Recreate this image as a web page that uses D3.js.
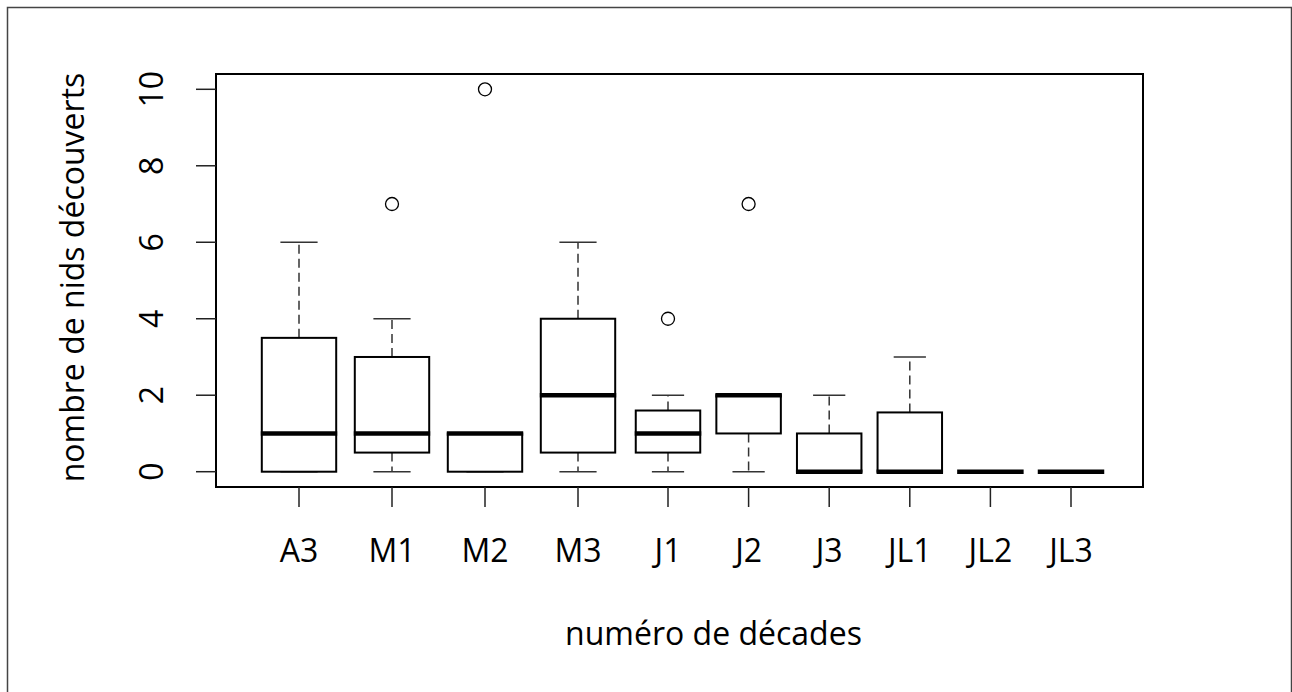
<!DOCTYPE html>
<html>
<head>
<meta charset="utf-8">
<script src="https://cdn.jsdelivr.net/npm/d3@7"></script>
<style>
  body { margin: 0; background: #fff; }
  svg { display: block; font-family: "Open Sans", sans-serif; }
</style>
</head>
<body>
<script>
// decades and boxplot statistics
var categories = ["A3", "M1", "M2", "M3", "J1", "J2", "J3", "JL1", "JL2", "JL3"];
var lowWhisker = [0, 0, 0, 0, 0, 0, 0, 0, 0, 0];
var lowerHinge = [0, 0.5, 0, 0.5, 0.5, 1, 0, 0, 0, 0];
var medians = [1, 1, 1, 2, 1, 2, 0, 0, 0, 0];
var upperHinge = [3.5, 3, 1, 4, 1.6, 2, 1, 1.55, 0, 0];
var highWhisker = [6, 4, 1, 6, 2, 2, 2, 3, 0, 0];
var outliers = [[], [7], [10], [], [4], [7], [], [], [], []];
var yTicks = [0, 2, 4, 6, 8, 10];

var width = 1292, height = 692;
var plot = { left: 216, right: 1143, top: 74, bottom: 487 };

var svg = d3.select("body").append("svg")
    .attr("width", width)
    .attr("height", height);

// outer frame
svg.append("rect")
    .attr("x", 7.5).attr("y", 7.5)
    .attr("width", 1284).attr("height", 700)
    .attr("fill", "none")
    .attr("stroke", "#444")
    .attr("stroke-width", 1.5);

// the groups are not evenly spaced in the original
var x = d3.scaleLinear()
    .domain([0, 3, 4, 9])
    .range([299, 578, 668, 1071]);

var y = d3.scaleLinear()
    .domain([-0.4, 10.4])
    .range([plot.bottom, plot.top]);

function step(i) {
    return i < 4 ? x(1) - x(0) : x(9) - x(8);
}

var g = svg.append("g");

categories.forEach(function (c, i) {
    var cx = x(i),
        half = step(i) * 0.4,
        staple = half * 0.5;

    // whiskers
    [[lowerHinge[i], lowWhisker[i]], [upperHinge[i], highWhisker[i]]].forEach(function (w) {
        g.append("line")
            .attr("x1", cx).attr("x2", cx)
            .attr("y1", y(w[0])).attr("y2", y(w[1]))
            .attr("stroke", "#333")
            .attr("stroke-width", 1.5)
            .attr("stroke-dasharray", "9,5");
        g.append("line")
            .attr("x1", cx - staple).attr("x2", cx + staple)
            .attr("y1", y(w[1])).attr("y2", y(w[1]))
            .attr("stroke", "#333")
            .attr("stroke-width", 1.5);
    });

    // box
    g.append("rect")
        .attr("x", cx - half)
        .attr("y", y(upperHinge[i]))
        .attr("width", half * 2)
        .attr("height", y(lowerHinge[i]) - y(upperHinge[i]))
        .attr("fill", "#fff")
        .attr("stroke", "#000")
        .attr("stroke-width", 2);

    // median
    g.append("line")
        .attr("x1", cx - half - 1).attr("x2", cx + half + 1)
        .attr("y1", y(medians[i])).attr("y2", y(medians[i]))
        .attr("stroke", "#000")
        .attr("stroke-width", 4.5);

    // outliers
    outliers[i].forEach(function (v) {
        g.append("circle")
            .attr("cx", cx)
            .attr("cy", y(v))
            .attr("r", 6.5)
            .attr("fill", "none")
            .attr("stroke", "#000")
            .attr("stroke-width", 1.3);
    });
});

// plot box
svg.append("rect")
    .attr("x", plot.left).attr("y", plot.top)
    .attr("width", plot.right - plot.left)
    .attr("height", plot.bottom - plot.top)
    .attr("fill", "none")
    .attr("stroke", "#000")
    .attr("stroke-width", 2);

// Y axis ticks and rotated labels
var yAxis = svg.append("g");
yTicks.forEach(function (t) {
    yAxis.append("line")
        .attr("x1", plot.left - 20).attr("x2", plot.left)
        .attr("y1", y(t)).attr("y2", y(t))
        .attr("stroke", "#222")
        .attr("stroke-width", 1.5);
    yAxis.append("text")
        .attr("transform", "translate(163," + y(t) + ") rotate(-90)")
        .attr("text-anchor", "middle")
        .attr("font-size", 32)
        .text(t);
});

// X axis ticks and labels
var xAxis = svg.append("g");
categories.forEach(function (c, i) {
    xAxis.append("line")
        .attr("x1", x(i)).attr("x2", x(i))
        .attr("y1", plot.bottom).attr("y2", plot.bottom + 20)
        .attr("stroke", "#222")
        .attr("stroke-width", 1.5);
    xAxis.append("text")
        .attr("x", x(i))
        .attr("y", 562)
        .attr("text-anchor", "middle")
        .attr("font-size", 32)
        .text(c);
});

// axis titles
svg.append("text")
    .attr("x", (plot.left + plot.right) / 2 + 34)
    .attr("y", 645)
    .attr("text-anchor", "middle")
    .attr("font-size", 32)
    .text("numéro de décades");

svg.append("text")
    .attr("transform", "translate(84," + ((plot.top + plot.bottom) / 2 - 3) + ") rotate(-90)")
    .attr("text-anchor", "middle")
    .attr("font-size", 32)
    .text("nombre de nids découverts");
</script>
</body>
</html>
